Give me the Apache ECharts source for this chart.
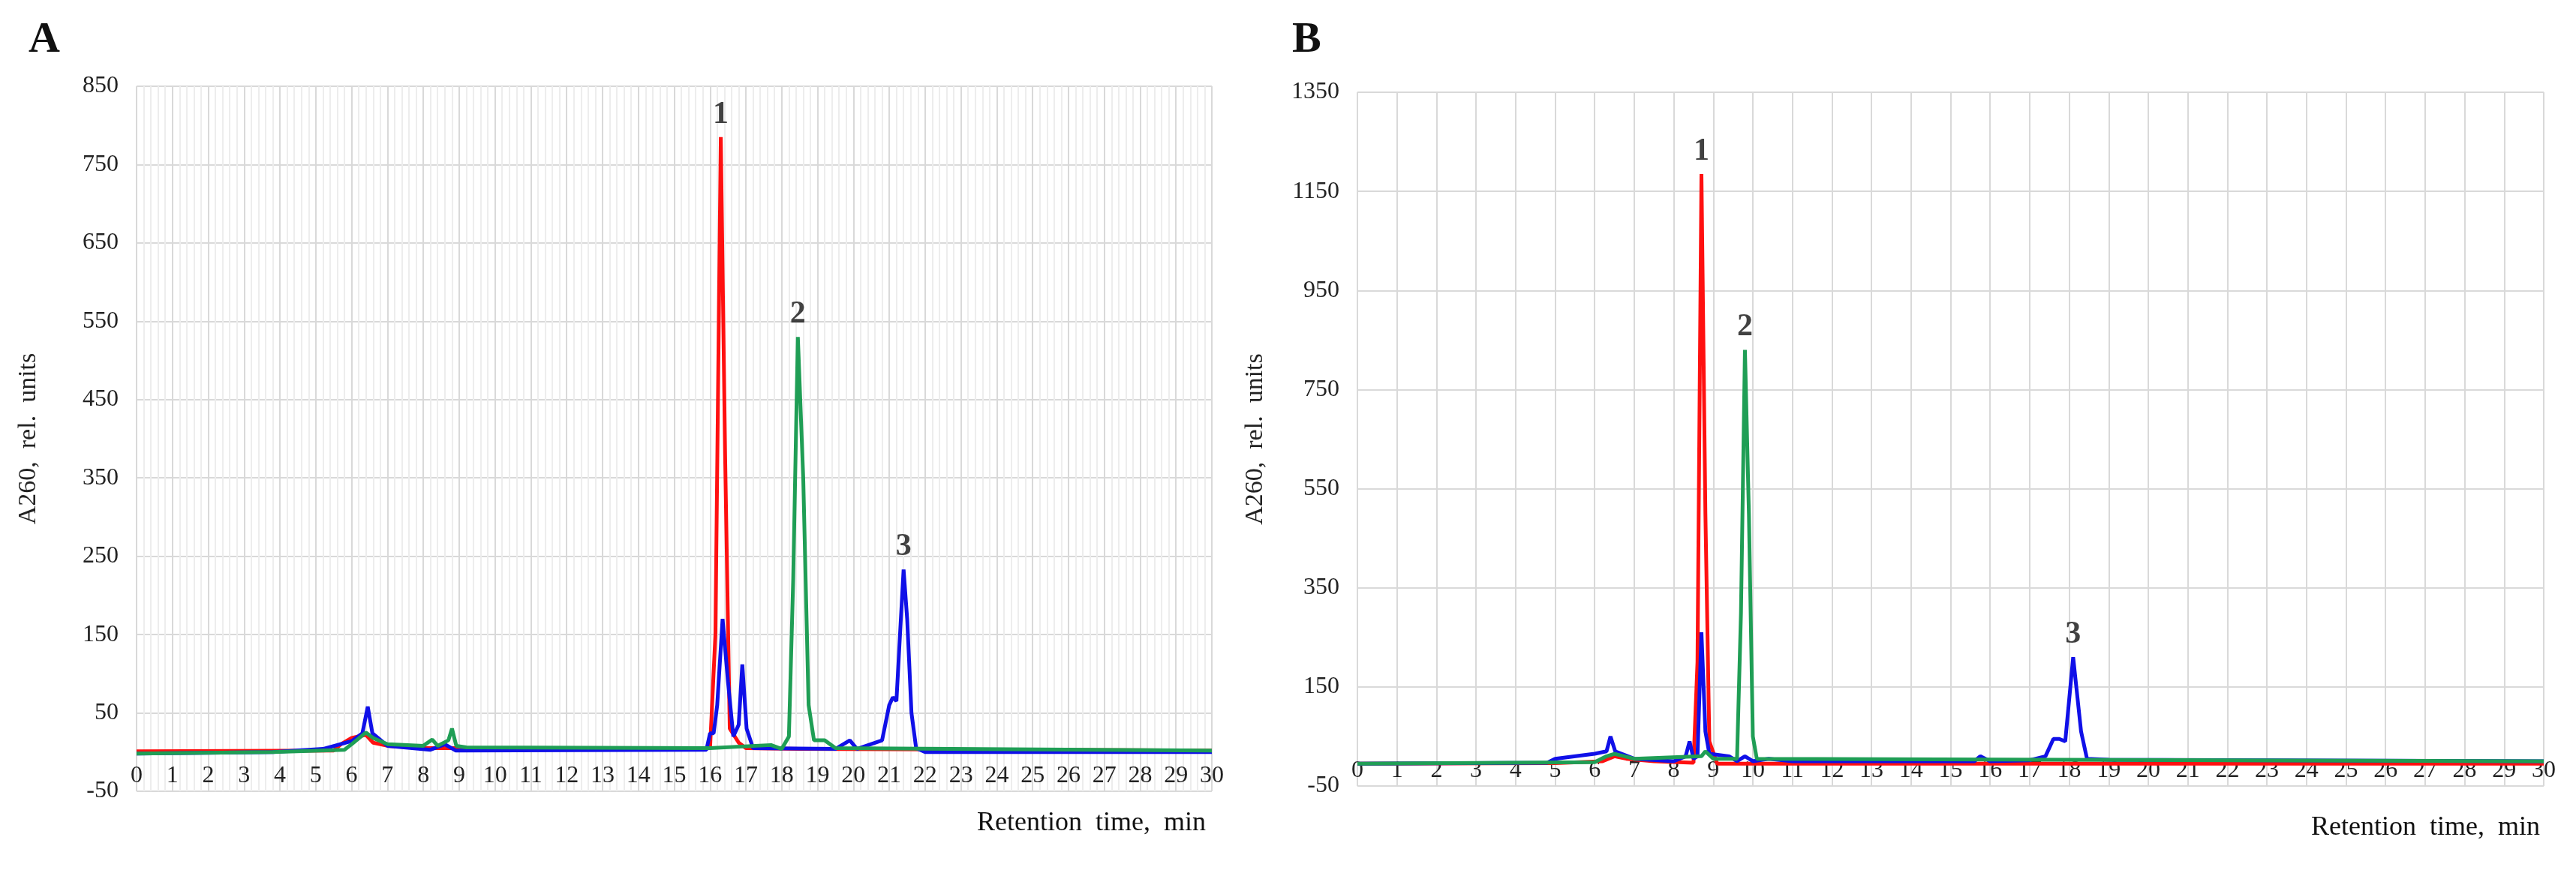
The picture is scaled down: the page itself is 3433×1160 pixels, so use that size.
<!DOCTYPE html>
<html lang="en">
<head>
    <meta charset="UTF-8">
    <title>chromatograms</title>
    <script src="https://cdn.jsdelivr.net/npm/echarts@6/dist/echarts.min.js"></script>
    <style>
        body { margin: 0; background: #fff; }
        #main { width: 3433px; height: 1160px; }
    </style>
</head>
<body>
<div id="main"></div>

<script>
    // panel A: [time, A260]
    var redA = [[0,1],[5.5,2],[5.7,10],[6.0,18],[6.4,22],[6.6,12],[7,8],[8,5],[16.0,5],[16.15,150],[16.3,785],[16.42,380],[16.55,30],[16.8,12],[17,5],[18.5,4],[30,2]];
    var blueA = [[0,-2],[3.8,0],[5.2,4],[6.0,14],[6.3,24],[6.45,58],[6.58,24],[7,8],[8.2,3],[8.6,10],[8.9,2],[15.9,3],[16.0,24],[16.1,24],[16.2,60],[16.35,170],[16.5,90],[16.65,20],[16.8,35],[16.9,112],[17.02,30],[17.2,5],[19.5,4],[19.9,15],[20.1,4],[20.8,15],[21.0,60],[21.1,70],[21.2,65],[21.3,150],[21.4,233],[21.5,170],[21.62,50],[21.75,5],[22,0],[30,0]];
    var greenA = [[0,-2],[3.8,0],[5.8,3],[6.0,10],[6.4,25],[6.6,18],[7,10],[8,8],[8.25,16],[8.4,8],[8.7,15],[8.8,30],[8.92,8],[9.2,6],[16,5],[17.7,9],[18.0,4],[18.2,20],[18.32,220],[18.45,530],[18.6,350],[18.75,60],[18.9,15],[19.2,15],[19.5,5],[30,2]];
    var peaksA = [[16.3,785,'1'],[18.45,530,'2'],[21.4,233,'3']];

    // panel B
    var redB = [[0,-5],[5,-4],[6.2,0],[6.5,10],[6.8,5],[7.5,0],[8.5,-3],[8.6,200],[8.7,1185],[8.8,500],[8.9,40],[9.1,-5],[30,-5]];
    var blueB = [[0,-5],[4.8,-3],[5.0,5],[6.0,15],[6.3,20],[6.4,50],[6.52,20],[7,5],[8,0],[8.3,10],[8.4,40],[8.5,5],[8.6,10],[8.7,260],[8.8,60],[8.9,15],[9.4,10],[9.6,0],[9.8,10],[10.0,0],[10.4,5],[11,0],[15.6,0],[15.75,10],[16,0],[17,2],[17.4,10],[17.6,45],[17.75,45],[17.9,40],[18.1,210],[18.3,60],[18.45,5],[19,3],[30,0]];
    var greenB = [[0,-5],[6.0,-2],[6.3,10],[6.5,15],[7,5],[8.7,10],[8.8,20],[9,5],[9.6,5],[9.7,300],[9.8,830],[9.9,500],[10.0,50],[10.1,5],[30,0]];
    var peaksB = [[8.7,1185,'1'],[9.8,830,'2'],[18.1,210,'3']];

    var red = '#ff1010', blue = '#1010e8', green = '#1f9e55';
    var font = 'Liberation Serif';

    function xAx(idx, minor) {
        return {
            gridIndex: idx, type: 'value', min: 0, max: 30, interval: 1,
            axisLine: { show: false }, axisTick: { show: false },
            axisLabel: { fontFamily: font, fontSize: 32, color: '#222', margin: -36 },
            splitLine: { lineStyle: { color: '#d9d9d9', width: 2 } },
            minorTick: { show: minor, splitNumber: 5, length: 0 },
            minorSplitLine: { show: minor, lineStyle: { color: '#ededed', width: 2 } }
        };
    }
    function yAx(idx, max, interval, gap) {
        return {
            gridIndex: idx, type: 'value', min: -50, max: max, interval: interval,
            name: 'A260,  rel.  units', nameLocation: 'middle', nameGap: gap,
            nameTextStyle: { fontFamily: font, fontSize: 34, color: '#222' },
            axisLine: { show: false }, axisTick: { show: false },
            axisLabel: { fontFamily: font, fontSize: 32, color: '#222', margin: 24,
                         formatter: function (v) { return String(v); } },
            splitLine: { lineStyle: { color: '#d9d9d9', width: 2 } }
        };
    }
    function line(idx, data, color) {
        return { type: 'line', xAxisIndex: idx, yAxisIndex: idx, data: data, showSymbol: false,
                 lineStyle: { color: color, width: 5 }, z: 3 };
    }
    function peaks(idx, data) {
        return { type: 'scatter', xAxisIndex: idx, yAxisIndex: idx, symbolSize: 2,
                 itemStyle: { color: 'rgba(0,0,0,0)' }, z: 5,
                 data: data,
                 label: { show: true, position: 'top', distance: 8, formatter: function (p) { return p.data[2]; },
                          fontFamily: font, fontSize: 42, fontWeight: 'bold', color: '#111' } };
    }

    var myChart = echarts.init(document.getElementById('main'));
    var option = {
        backgroundColor: '#fff',
        animation: false,
        grid: [
            { left: 182, top: 115, width: 1433, height: 940 },
            { left: 1809, top: 123, width: 1581, height: 925 }
        ],
        xAxis: [xAx(0, true), xAx(1, false)],
        yAxis: [yAx(0, 850, 100, 127), yAx(1, 1350, 200, 119)],
        graphic: [
            { type: 'text', left: 38, top: 25, style: { text: 'A', fontFamily: font, fontSize: 58, fontWeight: 'bold', fill: '#111' } },
            { type: 'text', left: 1722, top: 25, style: { text: 'B', fontFamily: font, fontSize: 58, fontWeight: 'bold', fill: '#111' } },
            { type: 'text', right: 3433 - 1607, top: 1080, style: { text: 'Retention  time,  min', fontFamily: font, fontSize: 36, fill: '#111' } },
            { type: 'text', right: 3433 - 3385, top: 1086, style: { text: 'Retention  time,  min', fontFamily: font, fontSize: 36, fill: '#111' } }
        ],
        series: [
            line(0, redA, red), line(0, blueA, blue), line(0, greenA, green), peaks(0, peaksA),
            line(1, redB, red), line(1, blueB, blue), line(1, greenB, green), peaks(1, peaksB)
        ]
    };
    myChart.setOption(option);
</script>
</body>
</html>
